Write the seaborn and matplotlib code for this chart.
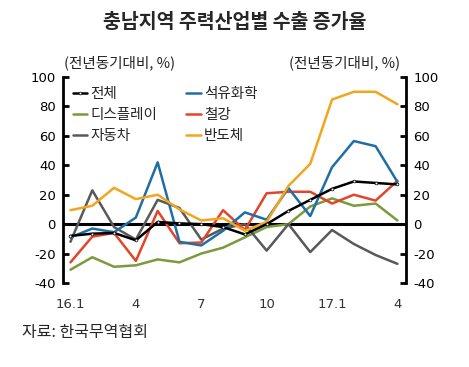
import numpy as np
import pandas as pd
import matplotlib
matplotlib.use("Agg")
import matplotlib.pyplot as plt
import seaborn as sns

sns.set_theme(style="white")
plt.rcParams['font.family'] = ['Noto Sans CJK KR', 'DejaVu Sans']
plt.rcParams['axes.unicode_minus'] = False

# 월별 (16.1 ~ 17.4)
months = ["16.1", "16.2", "16.3", "16.4", "16.5", "16.6", "16.7", "16.8",
          "16.9", "16.10", "16.11", "16.12", "17.1", "17.2", "17.3", "17.4"]
tick_labels = ["16.1", "4", "7", "10", "17.1", "4"]

total = [-8, -6.5, -6, -11, 1.5, 0.5, 0, -2, -7, 0, 9, 16.5, 24, 29, 28, 27]
petro = [-9, -3, -5.5, 4.5, 42, -12, -14.5, -4.5, 8, 3, 24.5, 5.5, 38.7, 56.5, 53, 28.7]
display = [-31, -22.5, -29, -28, -24, -26, -20, -16, -9, -2, 0, 12, 17.5, 12.5, 14, 2.5]
steel = [-26, -8.5, -6, -25, 9, -13, -12.5, 9.5, -4, 21, 22, 22, 14, 20, 16, 29.5]
auto = [-12, 23, -2, -10.5, 16.5, 11, -10.5, -3, 0, -18, 0, -19, -4, -13.5, -21, -27]
semi = [9.5, 12.5, 24.7, 17, 20, 10, 2.5, 4, -4.5, 1.5, 26, 41, 84.7, 90, 90, 81.5]

series = {"전체": total, "석유화학": petro, "디스플레이": display,
          "철강": steel, "자동차": auto, "반도체": semi}
colors = {"전체": "#000000", "석유화학": "#1F6FA5", "디스플레이": "#7A9A3C",
          "철강": "#E2452A", "자동차": "#595959", "반도체": "#F2A51F"}

df = pd.DataFrame(series)
df["idx"] = np.arange(len(months))

fig = plt.figure(figsize=(4.69, 3.67), dpi=100)
ax = fig.add_axes([0.134, 0.229, 0.732, 0.561])

ax.axhline(0, color="black", lw=2.2, zorder=1)

draw_order = ["디스플레이", "자동차", "철강", "석유화학", "반도체", "전체"]
for name in draw_order:
    kw = {}
    if name == "전체":
        kw = dict(marker="o", markersize=2, markerfacecolor="white",
                  markeredgecolor="black", markeredgewidth=0.5)
    sns.lineplot(x="idx", y=name, data=df, ax=ax, color=colors[name],
                 lw=1.8, label=name, zorder=3, **kw)

ax.set_xlim(-0.35, 15.4)
ax.set_ylim(-40, 100)
ax.set_yticks(range(-40, 101, 20))
ax.set_xticks([0, 3, 6, 9, 12, 15])
ax.set_xticklabels(tick_labels)
ax.set_xlabel("")
ax.set_ylabel("")

for s in ["top", "bottom"]:
    ax.spines[s].set_visible(False)
for s in ["left", "right"]:
    ax.spines[s].set_visible(True)
    ax.spines[s].set_color("black")
    ax.spines[s].set_linewidth(2)

ax.tick_params(axis="y", direction="in", length=4, width=2, left=True, right=True,
               labelleft=True, labelright=True, labelsize=9.5, pad=5, colors="black")
ax.tick_params(axis="x", length=0, labelsize=9.5, pad=11, colors="#333333")
for lab in ax.get_xticklabels() + ax.get_yticklabels():
    lab.set_family(["DejaVu Sans"])

handles, labels = ax.get_legend_handles_labels()
hmap = dict(zip(labels, handles))
order = ["전체", "디스플레이", "자동차", "석유화학", "철강", "반도체"]
ax.legend([hmap[k] for k in order], order, ncol=2, frameon=False,
          loc="upper left", bbox_to_anchor=(-0.005, 1.01), fontsize=10.5,
          handlelength=1.0, handletextpad=0.2, columnspacing=2.0,
          labelspacing=0.5, borderaxespad=0.4)

fig.text(0.5, 0.94, "충남지역 주력산업별 수출 증가율", ha="center", va="center",
         fontsize=14, fontweight="bold")
fig.text(0.255, 0.83, "(전년동기대비, %)", ha="center", va="center", fontsize=10.5,
         color="#222222")
fig.text(0.735, 0.83, "(전년동기대비, %)", ha="center", va="center", fontsize=10.5,
         color="#222222")
fig.text(0.047, 0.093, "자료: 한국무역협회", ha="left", va="center", fontsize=11.5)

fig.savefig("out.png", dpi=100)
